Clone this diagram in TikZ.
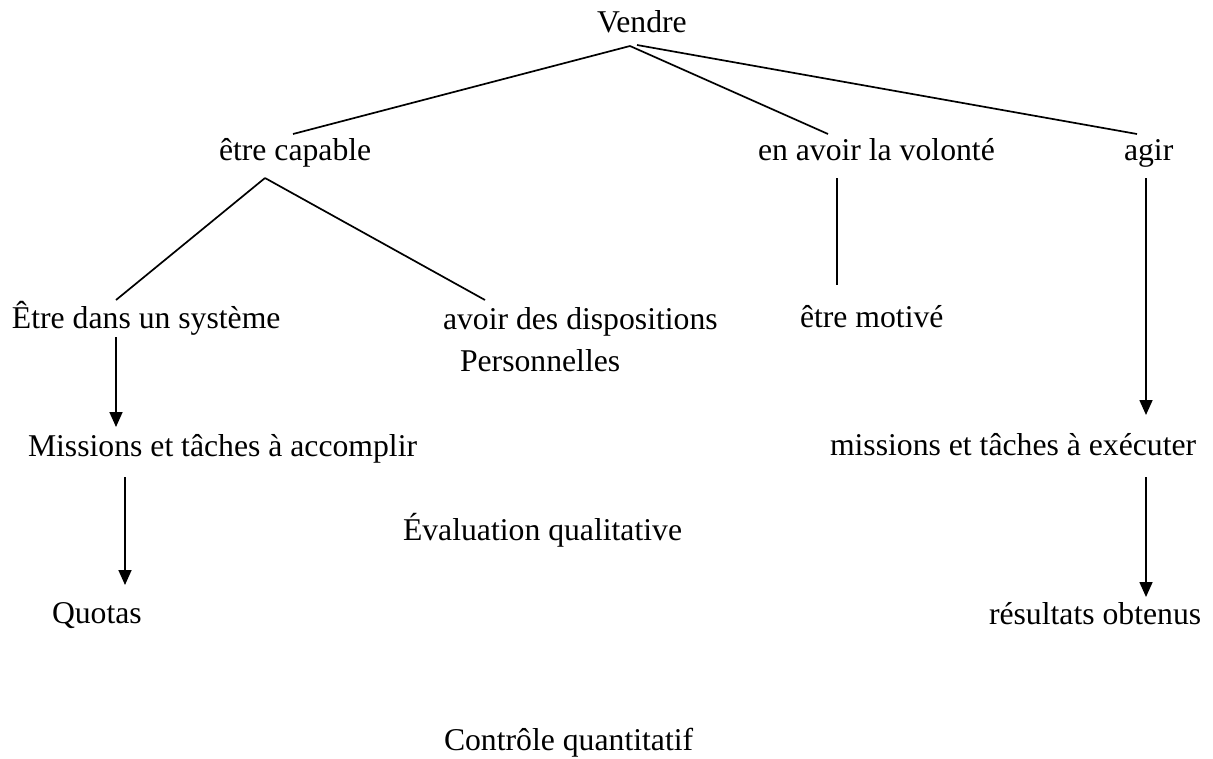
\documentclass[tikz,border=0pt]{standalone}
\usepackage{fontspec}
\setmainfont{Liberation Serif}
\usetikzlibrary{arrows.meta,calc}
\begin{document}
\begin{tikzpicture}[x=1pt,y=-1pt,
  lbl/.style={anchor=base west,inner sep=0pt,outer sep=0pt,
              font=\fontsize{31.7}{42}\selectfont},
  link/.style={line width=1.7pt},
  flow/.style={link,-{Triangle[length=15pt,width=13pt]}}]
\useasboundingbox (0,0) rectangle (1213,758);

% labels (placed by their baseline)
\node[lbl] (vendre)   at (597,32)   {Vendre};
\node[lbl] (capable)  at (219,160)  {être capable};
\node[lbl] (volonte)  at (758,160)  {en avoir la volonté};
\node[lbl] (agir)     at (1124,160) {agir};
\node[lbl] (systeme)  at (12,328)   {Être dans un système};
\node[lbl] (dispo)    at (443,329)  {avoir des dispositions};
\node[lbl] (perso)    at (460,371)  {Personnelles};
\node[lbl] (motive)   at (800,327)  {être motivé};
\node[lbl] (accomp)   at (28,456)   {Missions et tâches à accomplir};
\node[lbl] (executer) at (830,455)  {missions et tâches à exécuter};
\node[lbl] (evalq)    at (403,540)  {Évaluation qualitative};
\node[lbl] (quotas)   at (52,623)   {Quotas};
\node[lbl] (result)   at (989,624)  {résultats obtenus};
\node[lbl] (controle) at (444,750)  {Contrôle quantitatif};

% tree branches
\draw[link] ([shift={(33,14)}]vendre.base west) -- ([shift={(74,-26)}]capable.base west);
\draw[link] ([shift={(33,14)}]vendre.base west) -- ([shift={(70,-26)}]volonte.base west);
\draw[link] ([shift={(40,13)}]vendre.base west) -- ([shift={(13,-26)}]agir.base west);
\draw[link] ([shift={(46,18)}]capable.base west) -- ([shift={(104,-28)}]systeme.base west);
\draw[link] ([shift={(46,18)}]capable.base west) -- ([shift={(42,-29)}]dispo.base west);
\draw[link] ([shift={(79,18)}]volonte.base west) -- ([shift={(37,-42)}]motive.base west);

% arrows
\draw[flow] ([shift={(22,18)}]agir.base west) -- ([shift={(316,-40)}]executer.base west);
\draw[flow] ([shift={(104,9)}]systeme.base west) -- ([shift={(88,-29)}]accomp.base west);
\draw[flow] ([shift={(97,21)}]accomp.base west) -- ([shift={(73,-38)}]quotas.base west);
\draw[flow] ([shift={(316,22)}]executer.base west) -- ([shift={(157,-27)}]result.base west);
\end{tikzpicture}
\end{document}
